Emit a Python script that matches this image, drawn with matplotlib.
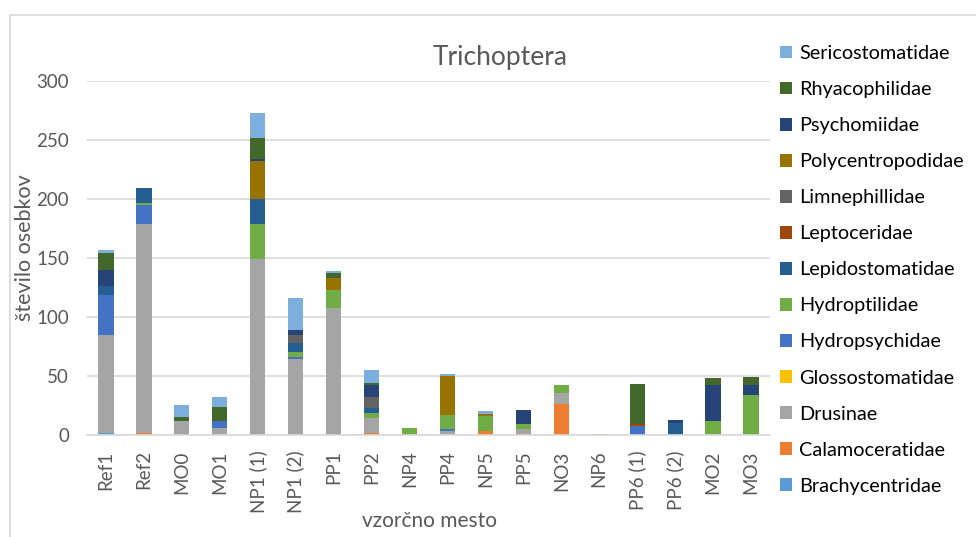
import matplotlib
matplotlib.use("Agg")
import matplotlib.pyplot as plt
from matplotlib.patches import Rectangle, Patch
import numpy as np

plt.rcParams['font.family'] = ['Lato', 'DejaVu Sans']

sites = ["Ref1", "Ref2", "MO0", "MO1", "NP1 (1)", "NP1 (2)", "PP1", "PP2", "NP4",
         "PP4", "NP5", "PP5", "NO3", "NP6", "PP6 (1)", "PP6 (2)", "MO2", "MO3"]

families = ["Brachycentridae", "Calamoceratidae", "Drusinae", "Glossostomatidae",
            "Hydropsychidae", "Hydroptilidae", "Lepidostomatidae", "Leptoceridae",
            "Limnephillidae", "Polycentropodidae", "Psychomiidae", "Rhyacophilidae",
            "Sericostomatidae"]

brachycentridae   = [2, 0, 0, 0, 0, 0, 0, 0, 0, 0, 0, 0, 0, 0, 0, 0, 0, 0]
calamoceratidae   = [0, 2, 0, 0, 0, 0, 0, 2, 0, 0, 3, 1, 26, 0, 0, 0, 0, 0]
drusinae          = [83, 177, 12, 6, 149, 64, 108, 12, 0, 3, 0, 4, 10, 0, 0, 0, 1, 0]
glossostomatidae  = [0, 0, 0, 0, 0, 0, 0, 0, 0, 0, 0, 0, 0, 0, 0, 0, 0, 0]
hydropsychidae    = [34, 16, 0, 6, 0, 2, 0, 0, 0, 2, 0, 0, 0, 0, 8, 0, 0, 0]
hydroptilidae     = [0, 2, 0, 0, 30, 4, 15, 5, 6, 12, 13, 4, 6, 1, 0, 0, 11, 34]
lepidostomatidae  = [7, 12, 0, 0, 21, 8, 0, 4, 0, 0, 0, 0, 0, 0, 0, 10, 0, 0]
leptoceridae      = [0, 0, 0, 0, 0, 0, 0, 0, 0, 0, 0, 0, 0, 0, 1, 0, 0, 0]
limnephillidae    = [0, 0, 0, 0, 0, 7, 0, 9, 0, 0, 0, 0, 0, 0, 0, 0, 0, 0]
polycentropodidae = [0, 0, 0, 0, 32, 0, 10, 0, 0, 33, 2, 0, 0, 0, 0, 0, 0, 0]
psychomiidae      = [14, 0, 0, 0, 2, 4, 0, 10, 0, 0, 0, 12, 0, 0, 0, 3, 30, 8]
rhyacophilidae    = [14, 0, 3, 12, 18, 0, 4, 2, 0, 0, 0, 0, 0, 0, 34, 0, 6, 7]
sericostomatidae  = [3, 0, 10, 8, 21, 27, 2, 11, 0, 2, 2, 0, 0, 0, 0, 0, 0, 0]

counts = [brachycentridae, calamoceratidae, drusinae, glossostomatidae,
          hydropsychidae, hydroptilidae, lepidostomatidae, leptoceridae,
          limnephillidae, polycentropodidae, psychomiidae, rhyacophilidae,
          sericostomatidae]

colors = ["#5B9BD5", "#ED7D31", "#A5A5A5", "#FFC000", "#4472C4", "#70AD47",
          "#255E91", "#9E480E", "#636363", "#997300", "#264478", "#43682B",
          "#7CAFDD"]

W, H = 976, 537
fig = plt.figure(figsize=(W / 100, H / 100), dpi=100)

# chart-area frame
fig.patches.append(Rectangle((10 / W, -0.1), 1.2, 1 - 15 / H + 0.1,
                             transform=fig.transFigure, fill=False,
                             edgecolor="#D9D9D9", linewidth=1.2))

ax = fig.add_axes([87 / W, 1 - 435 / H, 683 / W, 354 / H])
x = np.arange(len(sites))
bottom = np.zeros(len(sites))
for name, vals, col in zip(families, counts, colors):
    vals = np.array(vals, dtype=float)
    ax.bar(x, vals, width=0.4, bottom=bottom, color=col, label=name, linewidth=0)
    bottom += vals

ax.set_xlim(-0.5, len(sites) - 0.5)
ax.set_ylim(0, 300)
ax.set_yticks(range(0, 301, 50))
ax.yaxis.grid(True, color="#D9D9D9", linewidth=1.2)
ax.set_axisbelow(True)
for s in ["top", "right", "left"]:
    ax.spines[s].set_visible(False)
ax.spines["bottom"].set_color("#D9D9D9")
ax.spines["bottom"].set_linewidth(1.2)
ax.tick_params(axis="both", length=0, colors="#595959", labelsize=13.5)
ax.tick_params(axis="y", pad=13)
ax.tick_params(axis="x", pad=11)
ax.set_xticks(x)
ax.set_xticklabels(sites, rotation=90)

ax.set_ylabel("število osebkov", fontsize=15.5, color="#595959")
ax.yaxis.set_label_coords(-0.076, 0.53)
ax.set_xlabel("vzorčno mesto", fontsize=15, color="#595959")
ax.xaxis.set_label_coords(0.502, -0.215)

fig.text(500 / W, 1 - 58 / H, "Trichoptera", fontsize=19, color="#595959",
         ha="center", va="center")

handles = [Patch(facecolor=c, label=n) for n, c in zip(families, colors)][::-1]
fig.legend(handles=handles, loc="upper left", bbox_to_anchor=(772 / W, 1 - 37 / H),
           frameon=False, fontsize=14.3, labelcolor="#000000",
           handlelength=0.62, handleheight=0.62, handletextpad=0.35,
           labelspacing=0.96, borderaxespad=0)

fig.savefig("out.png", dpi=100)
